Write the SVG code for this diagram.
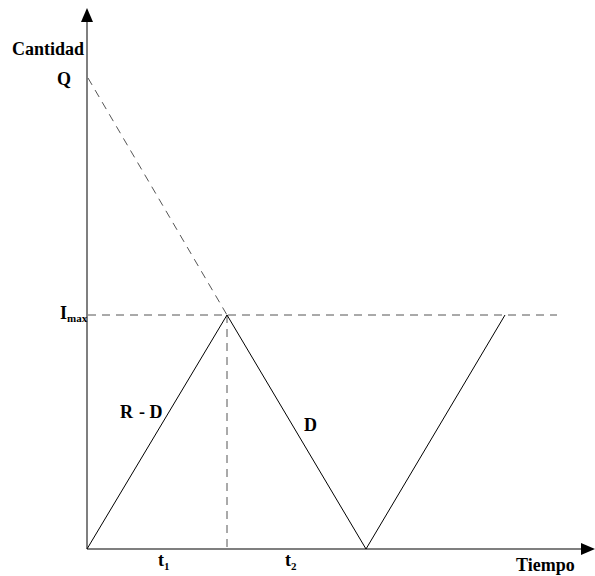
<svg xmlns="http://www.w3.org/2000/svg" width="595" height="576" viewBox="0 0 595 576">
<style>
.t{font-family:'Liberation Serif','Times New Roman',Times,serif;font-weight:bold;font-size:18px;fill:#000}
.s{font-size:11px}
.ax{stroke:#555;stroke-width:1.5;fill:none}
.ln{stroke:#000;stroke-width:1;fill:none}
.ds{stroke:#555;stroke-width:1;stroke-dasharray:8,6;fill:none}
</style>
<rect width="595" height="576" fill="#fff"/>
<g id="connectors">
<line class="ax" x1="87" y1="549" x2="87" y2="20"/>
<polygon points="87,8 81,22 93,22" fill="#000"/>
<line class="ax" x1="87" y1="549" x2="583" y2="549"/>
<polygon points="595,549 581,543 581,555" fill="#000"/>
<line class="ds" x1="88" y1="78" x2="227" y2="315"/>
<line class="ds" x1="88" y1="315" x2="557" y2="315"/>
<line class="ds" x1="227" y1="315" x2="227" y2="549"/>
<polyline class="ln" points="87,549 227,315 366,549 505,315"/>
</g>
<g id="labels">
<text class="t" x="12" y="55">Cantidad</text>
<text class="t" x="57" y="85">Q</text>
<text class="t" x="60" y="319">I<tspan class="s" dy="3">max</tspan></text>
<text class="t" x="120" y="418">R</text>
<text class="t" x="139" y="418">- D</text>
<text class="t" x="304" y="431">D</text>
<text class="t" x="158" y="566">t<tspan class="s" dy="4">1</tspan></text>
<text class="t" x="285" y="566">t<tspan class="s" dy="4">2</tspan></text>
<text class="t" x="516" y="571">Tiempo</text>
</g>
</svg>
